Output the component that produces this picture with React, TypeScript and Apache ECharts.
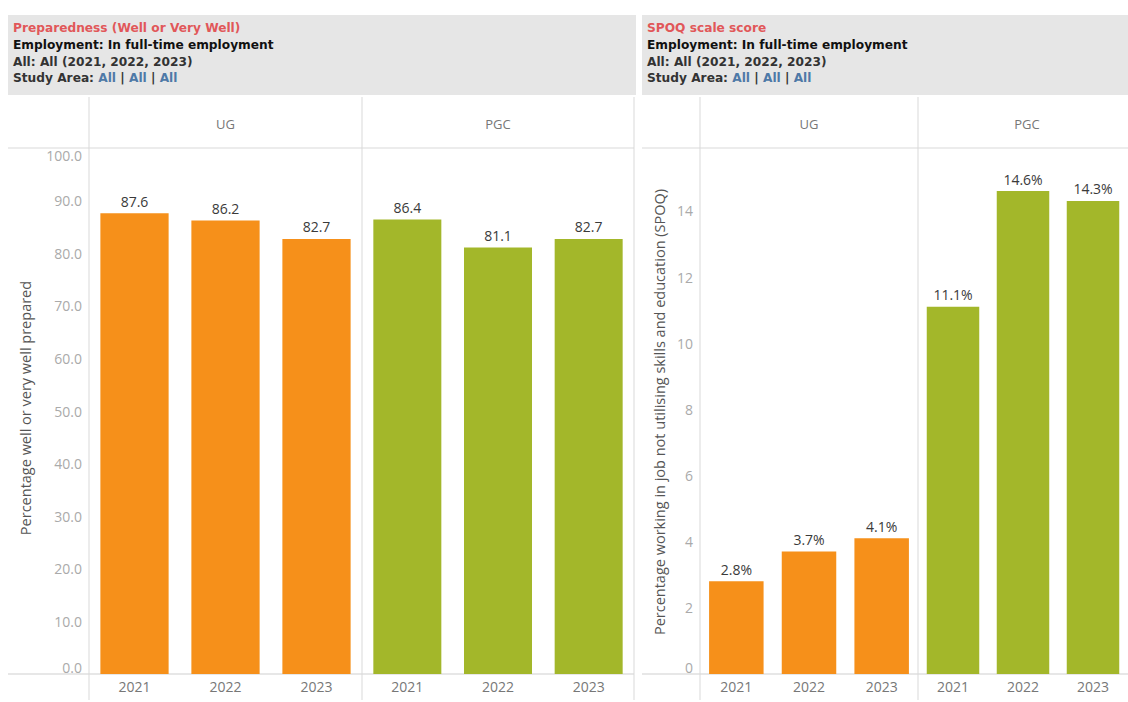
import React, { useEffect, useRef } from "react";
import * as echarts from "echarts";

const years = ["2021", "2022", "2023"];
const panels = ["UG", "PGC"];
const prepUG = [87.6, 86.2, 82.7];
const prepPGC = [86.4, 81.1, 82.7];
const spoqUG = [2.8, 3.7, 4.1];
const spoqPGC = [11.1, 14.6, 14.3];

const ORANGE = "#f6901a";
const GREEN = "#a3b72a";
const LINE = "#d9d9d9";
const FONT = "'Open Sans', sans-serif";
const HFONT = "'DejaVu Sans', sans-serif";
const HSIZE = "12.2px";

function header(x: number, w: number, title: string) {
  return [
    { type: "rect", shape: { x, y: 15, width: w, height: 80 }, style: { fill: "#e6e6e6" }, silent: true },
    { type: "text", x: x + 5, y: 28, style: { text: title, fill: "#e15759", font: `bold ${HSIZE} ${HFONT}`, textVerticalAlign: "middle" } },
    { type: "text", x: x + 5, y: 45, style: { text: "Employment: In full-time employment", fill: "#111", font: `bold ${HSIZE} ${HFONT}`, textVerticalAlign: "middle" } },
    { type: "text", x: x + 5, y: 62, style: { text: "All: All (2021, 2022, 2023)", fill: "#333", font: `bold ${HSIZE} ${HFONT}`, textVerticalAlign: "middle" } },
    {
      type: "text", x: x + 5, y: 78,
      style: {
        text: "{k|Study Area: }{b|All}{k| | }{b|All}{k| | }{b|All}",
        textVerticalAlign: "middle",
        rich: {
          k: { fill: "#333", font: `bold ${HSIZE} ${HFONT}` },
          b: { fill: "#4e79a7", font: `bold ${HSIZE} ${HFONT}` },
        },
      },
    },
  ];
}

function hline(x1: number, x2: number, y: number, color = LINE) {
  return { type: "line", shape: { x1, y1: y, x2, y2: y }, style: { stroke: color, lineWidth: 1 }, silent: true };
}
function vline(x: number, y1: number, y2: number) {
  return { type: "line", shape: { x1: x, y1, x2: x, y2 }, style: { stroke: LINE, lineWidth: 1 }, silent: true };
}
function label(x: number, y: number, text: string) {
  return { type: "text", x, y, style: { text, fill: "#777", font: `13px ${FONT}`, textAlign: "center", textVerticalAlign: "middle" } };
}

export default function App() {
  const ref = useRef<HTMLDivElement>(null);
  useEffect(() => {
    document.body.style.margin = "0";
    const chart = echarts.init(ref.current!, null, { renderer: "svg" });
    const grids = [
      { left: 89, top: 148, width: 273, height: 526 },
      { left: 362, top: 148, width: 272, height: 526 },
      { left: 700, top: 148, width: 218, height: 526 },
      { left: 918, top: 148, width: 218, height: 526 },
    ];
    const xAxis = grids.map((_, i) => ({
      type: "category",
      gridIndex: i,
      data: years,
      axisLine: { show: false },
      axisTick: { show: false },
      axisLabel: { color: "#777", fontSize: 14, fontFamily: FONT, margin: 5 },
    }));
    const yBase = (i: number, max: number, interval: number, fmt: (v: number) => string, show: boolean) => ({
      type: "value",
      gridIndex: i,
      min: 0,
      max,
      interval,
      axisLine: { show: false },
      axisTick: { show: false },
      splitLine: { show: false },
      axisLabel: {
        show,
        color: "#aaaaaa",
        fontSize: 14,
        fontFamily: FONT,
        margin: 7,
        formatter: fmt,
        verticalAlignMinLabel: "bottom",
        verticalAlignMaxLabel: "top",
        showMaxLabel: max === 100,
      },
    });
    const f1 = (v: number) => v.toFixed(1);
    const f0 = (v: number) => String(v);
    const yAxis = [
      yBase(0, 100, 10, f1, true),
      yBase(1, 100, 10, f1, false),
      yBase(2, 15.9, 2, f0, true),
      yBase(3, 15.9, 2, f0, false),
    ];
    const mk = (i: number, data: number[], color: string, pct: boolean) => ({
      type: "bar",
      xAxisIndex: i,
      yAxisIndex: i,
      data,
      barCategoryGap: "25%",
      itemStyle: { color },
      label: {
        show: true,
        position: "top",
        distance: 5,
        color: "#3a3a3a",
        fontSize: 14,
        fontFamily: FONT,
        formatter: (p: any) => (pct ? p.value.toFixed(1) + "%" : p.value.toFixed(1)),
      },
    });
    const series = [
      mk(0, prepUG, ORANGE, false),
      mk(1, prepPGC, GREEN, false),
      mk(2, spoqUG, ORANGE, true),
      mk(3, spoqPGC, GREEN, true),
    ];
    const graphic: any[] = [
      ...header(8, 628, "Preparedness (Well or Very Well)"),
      ...header(642, 486, "SPOQ scale score"),
      hline(8, 634, 148),
      hline(8, 634, 674, "#cfcfcf"),
      vline(89, 97, 700),
      vline(362, 97, 700),
      vline(634, 97, 700),
      hline(642, 1128, 148),
      hline(642, 1128, 674, "#cfcfcf"),
      vline(700, 97, 700),
      vline(918, 97, 700),
      label(225.5, 124, panels[0]),
      label(498, 124, panels[1]),
      label(809, 124, panels[0]),
      label(1027, 124, panels[1]),
      {
        type: "text", x: 25, y: 408, rotation: Math.PI / 2,
        style: { text: "Percentage well or very well prepared", fill: "#555", font: `14.5px ${FONT}`, textAlign: "center", textVerticalAlign: "middle" },
      },
      {
        type: "text", x: 659, y: 412, rotation: Math.PI / 2,
        style: { text: "Percentage working in job not utilising skills and education (SPOQ)", fill: "#555", font: `14.5px ${FONT}`, textAlign: "center", textVerticalAlign: "middle" },
      },
    ];
    chart.setOption({
      animation: false,
      backgroundColor: "#fff",
      grid: grids,
      xAxis,
      yAxis,
      series,
      graphic,
    });
    return () => chart.dispose();
  }, []);
  return <div ref={ref} style={{ width: 1128, height: 702 }} />;
}
